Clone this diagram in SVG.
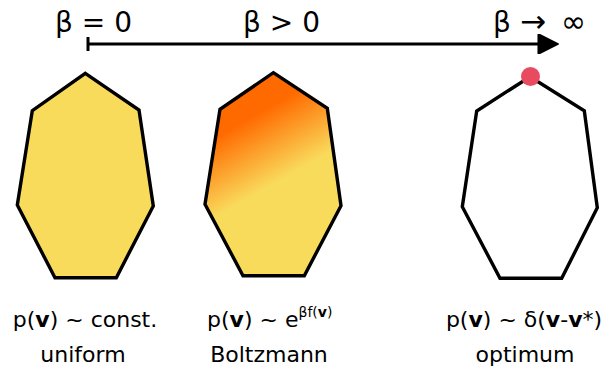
<svg xmlns="http://www.w3.org/2000/svg" width="610" height="371" viewBox="0 0 610 371">
<style>
text{font-family:"DejaVu Sans",Verdana,sans-serif;fill:#000}
.t{font-size:28px}
.b{font-size:22px}
.poly{stroke:#000;stroke-width:3.4;stroke-linejoin:miter}
</style>
<defs>
<linearGradient id="boltz" gradientUnits="userSpaceOnUse" x1="238" y1="125" x2="272" y2="185">
<stop offset="0" stop-color="#FF6A00"/>
<stop offset="1" stop-color="#F9DB5C"/>
</linearGradient>
<marker id="head" viewBox="0 0 10 10" refX="9" refY="5" markerWidth="7.5" markerHeight="6.5" markerUnits="strokeWidth" orient="auto">
<path d="M0,0 L10,5 L0,10 z" fill="#000" stroke="#000" stroke-width="1" stroke-linejoin="round"/>
</marker>
</defs>
<g id="labels-top">
<text class="t" x="55" y="32">β = 0</text>
<text class="t" x="243" y="32">β &gt; 0</text>
<text class="t" y="32"><tspan x="493">β</tspan><tspan x="520" font-size="31">→</tspan><tspan x="561" font-size="30">∞</tspan></text>
</g>
<g id="connectors">
<line x1="88" y1="37" x2="88" y2="51" stroke="#000" stroke-width="3"/>
<line x1="88" y1="44" x2="556" y2="44" stroke="#000" stroke-width="3" marker-end="url(#head)"/>
</g>
<g id="uniform">
<polygon class="poly" fill="#F9DB5C" points="85.3,73.3 139,110 153.3,206 116.3,277.7 55,277.7 17.3,205 32.3,110.7"/>
<text class="b" x="85" y="327" text-anchor="middle">p(<tspan font-weight="bold">v</tspan>) ~ const.</text>
<text class="b" x="83" y="362" text-anchor="middle">uniform</text>
</g>
<g id="boltzmann">
<polygon class="poly" fill="url(#boltz)" points="273.3,72.7 327.3,108.3 341,205.7 304.3,275.7 243,275.7 205,204.3 220,109.3"/>
<text class="b" x="207" y="327">p(<tspan font-weight="bold">v</tspan>) ~ e<tspan font-size="14" dy="-10">βf(<tspan font-weight="bold">v</tspan>)</tspan></text>
<text class="b" x="269" y="362" text-anchor="middle">Boltzmann</text>
</g>
<g id="optimum">
<polygon class="poly" fill="none" points="530,76.7 584.3,110.7 597.3,207.7 561.7,278.3 500,278.3 462.3,206.7 476.7,111"/>
<circle cx="530.5" cy="76.5" r="9.5" fill="#E84A5F"/>
<text class="b" x="524" y="327" text-anchor="middle">p(<tspan font-weight="bold">v</tspan>) ~ δ(<tspan font-weight="bold">v</tspan>-<tspan font-weight="bold">v</tspan>*)</text>
<text class="b" x="525" y="362" text-anchor="middle">optimum</text>
</g>
</svg>
